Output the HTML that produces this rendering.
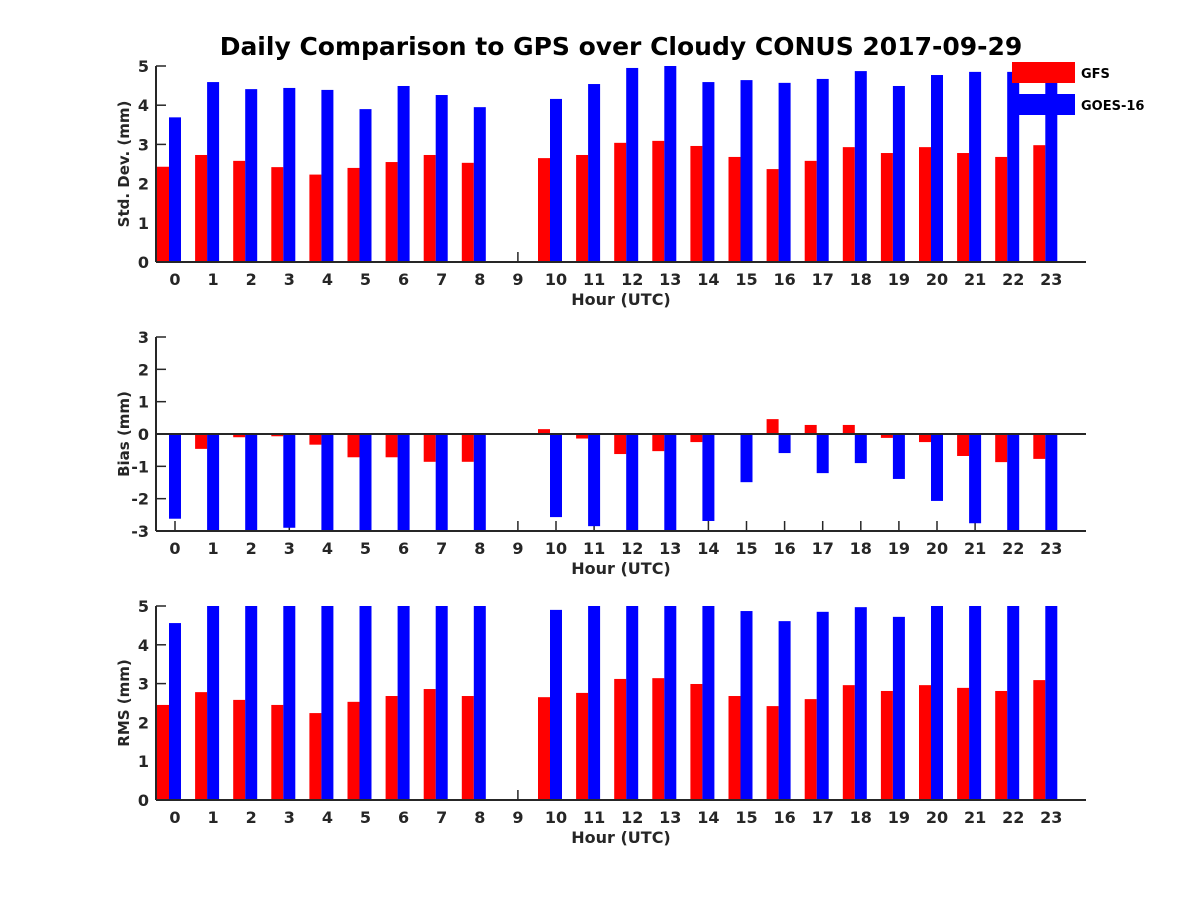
<!DOCTYPE html>
<html><head><meta charset="utf-8"><style>
body{margin:0;background:#fff}
svg text{font-family:"DejaVu Sans","Liberation Sans",sans-serif;font-weight:bold;fill:#262626}
</style></head><body>
<svg id="chart" width="1200" height="900" xmlns="http://www.w3.org/2000/svg">
<text x="621" y="55" text-anchor="middle" font-size="25" style="fill:#000">Daily Comparison to GPS over Cloudy CONUS 2017-09-29</text>
</svg>
<script>
const hours = [0,1,2,3,4,5,6,7,8,9,10,11,12,13,14,15,16,17,18,19,20,21,22,23];
const stdGFS = [2.43,2.73,2.58,2.42,2.23,2.40,2.55,2.73,2.53,null,2.65,2.73,3.04,3.09,2.96,2.68,2.37,2.58,2.93,2.78,2.93,2.78,2.68,2.98];
const stdGOES = [3.69,4.59,4.41,4.44,4.39,3.90,4.49,4.26,3.95,null,4.16,4.54,4.95,5.0,4.59,4.64,4.57,4.67,4.87,4.49,4.77,4.85,4.85,4.9];
const biasGFS = [0.0,-0.46,-0.1,-0.07,-0.33,-0.72,-0.72,-0.86,-0.86,null,0.15,-0.14,-0.62,-0.53,-0.25,0.03,0.46,0.28,0.28,-0.12,-0.25,-0.68,-0.87,-0.77];
const biasGOES = [-2.62,-3.5,-3.5,-2.9,-3.5,-3.5,-3.5,-3.5,-3.5,null,-2.57,-2.85,-3.5,-3.5,-2.69,-1.49,-0.59,-1.21,-0.9,-1.39,-2.07,-2.76,-3.5,-3.5];
const rmsGFS = [2.45,2.78,2.58,2.45,2.24,2.53,2.68,2.86,2.68,null,2.65,2.76,3.12,3.14,2.99,2.68,2.42,2.6,2.96,2.81,2.96,2.89,2.81,3.09];
const rmsGOES = [4.56,5.5,5.5,5.5,5.5,5.5,5.5,5.5,5.5,null,4.9,5.5,5.5,5.5,5.5,4.87,4.61,4.85,4.97,4.72,5.5,5.5,5.5,5.5];
const stdTicks = [0,1,2,3,4,5], biasTicks = [-3,-2,-1,0,1,2,3], rmsTicks = [0,1,2,3,4,5];

const svg = document.getElementById('chart');
const NS = 'http://www.w3.org/2000/svg';
function mk(tag, attrs, parent){const e=document.createElementNS(NS,tag);for(const k in attrs)e.setAttribute(k,attrs[k]);(parent||svg).appendChild(e);return e;}
const X0=156, X1=1086;
const xs = h => 175 + h*38.1;

function panel(name, top, bottom, ymin, ymax, ticks, red, blue, ylabel){
  const g = mk('g',{});
  
  
  const ys = v => bottom - (v-ymin)/(ymax-ymin)*(bottom-top);
  const clip = v => Math.max(ymin, Math.min(ymax, v));
  const base = ys(Math.max(ymin, Math.min(ymax, 0)));
  ticks.forEach(t=>{
    const y=ys(t);
    mk('line',{x1:X0,y1:y,x2:X0+10,y2:y,stroke:'#262626','stroke-width':1.5},g);
    const tx=mk('text',{x:X0-7,y:y+6,'text-anchor':'end','font-size':16},g);
    tx.textContent=t;
    
    
  });
  hours.forEach(h=>{
    const x=xs(h);
    mk('line',{x1:x,y1:bottom,x2:x,y2:bottom-10,stroke:'#262626','stroke-width':1.5},g);
    const tx=mk('text',{x:x,y:bottom+23,'text-anchor':'middle','font-size':16},g);
    tx.textContent=h;
    
    
  });
  hours.forEach((h,i)=>{
    [[red,'#ff0000',-18,'gfs'],[blue,'#0000ff',-6,'goes16']].forEach(([arr,col,off,s])=>{
      const v = arr[i]; if(v===null) return;
      const y = ys(clip(v));
      const r = mk('rect',{x:xs(h)+off,y:Math.min(y,base),width:12,height:Math.abs(base-y),fill:col},g);
      
      
    });
  });
  mk('line',{x1:X0,y1:top,x2:X0,y2:bottom,stroke:'#262626','stroke-width':2},g);
  mk('line',{x1:X0,y1:bottom,x2:X1,y2:bottom,stroke:'#262626','stroke-width':2},g);
  if(ymin<0) mk('line',{x1:X0,y1:ys(0),x2:X1,y2:ys(0),stroke:'#262626','stroke-width':2},g);
  const xl=mk('text',{x:621,y:bottom+43,'text-anchor':'middle','font-size':16},g);
  xl.textContent='Hour (UTC)';
  
  
  const cy=(top+bottom)/2;
  const yl=mk('text',{x:0,y:0,'text-anchor':'middle','font-size':15,transform:'translate(129,'+cy+') rotate(-90)'},g);
  yl.textContent=ylabel;
  
  
}
panel('std-dev',66,262,0,5,stdTicks,stdGFS,stdGOES,'Std. Dev. (mm)');
panel('bias',337,531,-3,3,biasTicks,biasGFS,biasGOES,'Bias (mm)');
panel('rms',606,800,0,5,rmsTicks,rmsGFS,rmsGOES,'RMS (mm)');

const lg = mk('g',{});


[['GFS','#ff0000',62],['GOES-16','#0000ff',94]].forEach(([lab,col,y])=>{
  const r=mk('rect',{x:1012,y:y,width:63,height:21,fill:col},lg);
  
  
  const t=mk('text',{x:1081,y:y+16,'font-size':13,style:'fill:#000'},lg);
  t.textContent=lab;
  
  
});
</script>
</body></html>
